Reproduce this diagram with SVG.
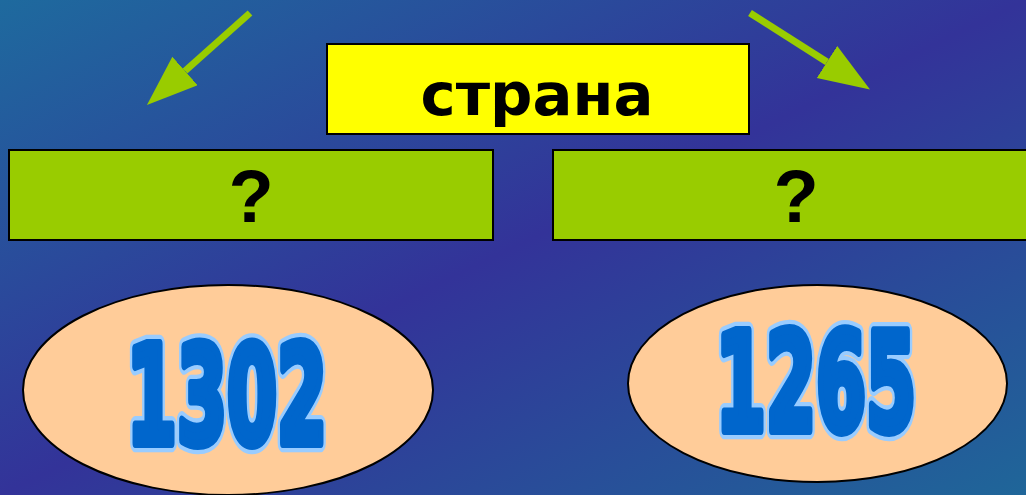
<svg xmlns="http://www.w3.org/2000/svg" width="1026" height="495" viewBox="0 0 1026 495">
<defs>
<linearGradient id="bg" x1="0" y1="0" x2="1" y2="1">
<stop offset="0" stop-color="#1E6A9E"/>
<stop offset="0.5" stop-color="#333399"/>
<stop offset="1" stop-color="#1F6699"/>
</linearGradient>
<marker id="head" markerUnits="userSpaceOnUse" markerWidth="52" markerHeight="40" refX="0" refY="19" orient="auto">
<path d="M0,0 L51,19 L0,38 Z" fill="#99CC00"/>
</marker>
<style>
.box{stroke:#000;stroke-width:2}
.green{fill:#99CC00}
.yellow{fill:#FFFF00}
.oval{fill:#FFCC99;stroke:#000;stroke-width:2}
.q{font-family:"Liberation Sans",Arial,sans-serif;font-weight:bold;font-size:74px;fill:#000;text-anchor:middle}
.num{font-family:"DejaVu Sans",sans-serif;font-weight:bold;font-size:75px;text-anchor:middle;stroke-linejoin:round;vector-effect:non-scaling-stroke}
.num-out{fill:#99CCFF;stroke:#99CCFF;stroke-width:15px}
.num-in{fill:#0066CC;stroke:#0066CC;stroke-width:8px}
.word{font-family:"DejaVu Sans","Noto Sans",sans-serif;font-weight:bold;font-size:59px;fill:#000;text-anchor:middle}
.arrow{stroke:#99CC00;stroke-width:7;fill:none;marker-end:url(#head)}
</style>
</defs>
<rect x="0" y="0" width="1026" height="495" fill="url(#bg)"/>
<g id="connectors">
<line class="arrow" x1="250" y1="13" x2="185" y2="71"/>
<line class="arrow" x1="750" y1="13" x2="827" y2="62"/>
</g>
<g id="node-strana">
<rect class="box yellow" x="327" y="44" width="422" height="90"/>
<text class="word" x="537" y="115" textLength="233" lengthAdjust="spacingAndGlyphs">страна</text>
</g>
<g id="node-q-left">
<rect class="box green" x="9" y="150" width="484" height="90"/>
<text class="q" x="251" y="222">?</text>
</g>
<g id="node-q-right">
<rect class="box green" x="553" y="150" width="480" height="90"/>
<text class="q" x="796" y="222">?</text>
</g>
<g id="node-1302">
<ellipse class="oval" cx="228" cy="390" rx="205" ry="105"/>
<g transform="translate(227,443) scale(0.96,1.8)">
<text class="num num-out" x="0" y="0">1302</text>
<text class="num num-in" x="0" y="0">1302</text>
</g>
</g>
<g id="node-1265">
<ellipse class="oval" cx="817.5" cy="383.5" rx="189.5" ry="98.5"/>
<g transform="translate(816,430) scale(0.96,1.8)">
<text class="num num-out" x="0" y="0">1265</text>
<text class="num num-in" x="0" y="0">1265</text>
</g>
</g>
</svg>
